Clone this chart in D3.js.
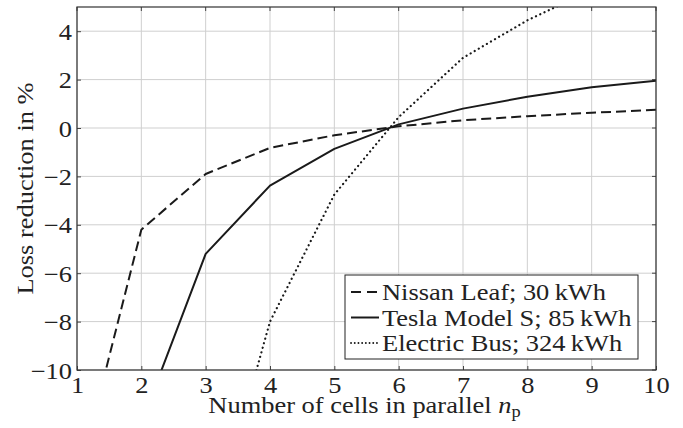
<!DOCTYPE html>
<html>
<head>
<meta charset="utf-8">
<script src="https://cdn.jsdelivr.net/npm/d3@7"></script>
</head>
<body style="margin:0;padding:0;background:#fff">
<svg id="chart" width="683" height="428" style="display:block"></svg>
<script>
// ---- data ----
const cellsParallel = [1, 2, 3, 4, 5, 6, 7, 8, 9, 10];
const nissanLeaf   = [-14.7, -4.2, -1.9, -0.82, -0.3, 0.07, 0.32, 0.49, 0.63, 0.75];
const teslaModelS  = [null, -12.2, -5.2, -2.38, -0.86, 0.15, 0.8, 1.29, 1.68, 1.95];
const electricBus  = [null, null, -17.5, -8.0, -2.75, 0.45, 2.9, 4.45, 5.7, 6.8];
const seriesNames  = ["Nissan Leaf; 30\u2009kWh", "Tesla Model S; 85\u2009kWh", "Electric Bus; 324\u2009kWh"];
const xTicks = [1, 2, 3, 4, 5, 6, 7, 8, 9, 10];
const yTicks = [-10, -8, -6, -4, -2, 0, 2, 4];

const FONT = "Liberation Serif";
const FS = 23;      // font size
const SX = 1.15;    // horizontal stretch of glyphs (reference font is wide)
const W = 683, H = 428;
const m = { left: 77, top: 7, right: 27, bottom: 58 };
const iw = W - m.left - m.right, ih = H - m.top - m.bottom;

const svg = d3.select("#chart");
const g = svg.append("g").attr("transform", `translate(${m.left},${m.top})`);

const x = d3.scaleLinear().domain([1, 10]).range([0, iw]);
const y = d3.scaleLinear().domain([-10, 5]).range([ih, 0]);

// grid
g.append("g").selectAll("line").data(xTicks).join("line")
  .attr("x1", d => x(d)).attr("x2", d => x(d)).attr("y1", 0).attr("y2", ih)
  .attr("stroke", "#cfcfcf").attr("stroke-width", 1);
g.append("g").selectAll("line").data(yTicks).join("line")
  .attr("x1", 0).attr("x2", iw).attr("y1", d => y(d)).attr("y2", d => y(d))
  .attr("stroke", "#cfcfcf").attr("stroke-width", 1);

// clip
svg.append("defs").append("clipPath").attr("id", "clip")
  .append("rect").attr("x", 0).attr("y", 0).attr("width", iw).attr("height", ih);

const styles = [
  { data: nissanLeaf, dash: "10,5", cap: "butt" },
  { data: teslaModelS, dash: null, cap: "butt" },
  { data: electricBus, dash: "0.1,4.6", cap: "round" }
];

const line = d3.line()
  .defined(d => d[1] !== null)
  .x(d => x(d[0])).y(d => y(d[1]));

const lines = g.append("g").attr("clip-path", "url(#clip)");
styles.forEach(s => {
  lines.append("path")
    .datum(cellsParallel.map((n, i) => [n, s.data[i]]))
    .attr("d", line)
    .attr("fill", "none")
    .attr("stroke", "#1a1a1a")
    .attr("stroke-width", s.cap === "round" ? 2.2 : 2)
    .attr("stroke-linecap", s.cap)
    .attr("stroke-linejoin", "round")
    .attr("stroke-dasharray", s.dash);
});

// axes (ticks inside)
const xAxis = g.append("g").attr("transform", `translate(0,${ih})`)
  .call(d3.axisBottom(x).tickValues(xTicks).tickSize(-4).tickFormat(d3.format("d")));
const yAxis = g.append("g")
  .call(d3.axisLeft(y).tickValues(yTicks).tickSize(-4)
    .tickFormat(d => d < 0 ? "\u2212" + Math.abs(d) : String(d)));
[xAxis, yAxis].forEach(a => {
  a.attr("font-family", FONT).attr("font-size", FS);
  a.select(".domain").remove();
  a.selectAll(".tick line").attr("stroke", "#444").attr("stroke-width", 1);
  a.selectAll("text").attr("fill", "#222").attr("font-family", FONT).attr("font-size", FS)
    .attr("dy", null).attr("x", null).attr("y", null);
});
xAxis.selectAll(".tick text").attr("text-anchor", "middle")
  .attr("transform", `translate(0,23) scale(${SX},1)`);
yAxis.selectAll(".tick text").attr("text-anchor", "end")
  .attr("transform", `translate(-5,8) scale(${SX},1)`);

// top/right ticks
g.append("g").selectAll("line").data(xTicks).join("line")
  .attr("x1", d => x(d)).attr("x2", d => x(d)).attr("y1", 0).attr("y2", 4)
  .attr("stroke", "#444");
g.append("g").selectAll("line").data(yTicks).join("line")
  .attr("x1", iw - 4).attr("x2", iw).attr("y1", d => y(d)).attr("y2", d => y(d))
  .attr("stroke", "#444");

// frame
g.append("rect").attr("x", 0).attr("y", 0).attr("width", iw).attr("height", ih)
  .attr("fill", "none").attr("stroke", "#333").attr("stroke-width", 1.2);

// axis labels
const xl = svg.append("text")
  .attr("transform", `translate(${m.left + iw / 2 - 2},413) scale(${SX},1)`)
  .attr("text-anchor", "middle").attr("font-family", FONT).attr("font-size", FS).attr("fill", "#222");
xl.append("tspan").text("Number of cells in parallel ");
xl.append("tspan").attr("font-style", "italic").text("n");
xl.append("tspan").attr("dy", 4).attr("font-size", 16).text("p");

svg.append("text")
  .attr("transform", `translate(33,${m.top + ih / 2}) rotate(-90) scale(${SX},1)`)
  .attr("text-anchor", "middle").attr("font-family", FONT).attr("font-size", FS).attr("fill", "#222")
  .text("Loss reduction in %");

// legend
const lg = svg.append("g").attr("transform", "translate(345,275)");
lg.append("rect").attr("width", 293).attr("height", 84)
  .attr("fill", "#fff").attr("stroke", "#222").attr("stroke-width", 1);
styles.forEach((s, i) => {
  const yy = 17 + i * 25.5;
  lg.append("line").attr("x1", 6).attr("x2", 34).attr("y1", yy).attr("y2", yy)
    .attr("stroke", "#1a1a1a")
    .attr("stroke-width", s.cap === "round" ? 1.8 : 2)
    .attr("stroke-linecap", s.cap)
    .attr("stroke-dasharray", i === 0 ? "10,6" : (i === 2 ? "0.1,3.6" : null));
  lg.append("text").attr("transform", `translate(37,${yy + 8}) scale(${SX},1)`)
    .attr("font-family", FONT).attr("font-size", FS).attr("fill", "#222")
    .text(seriesNames[i]);
});
</script>
</body>
</html>
